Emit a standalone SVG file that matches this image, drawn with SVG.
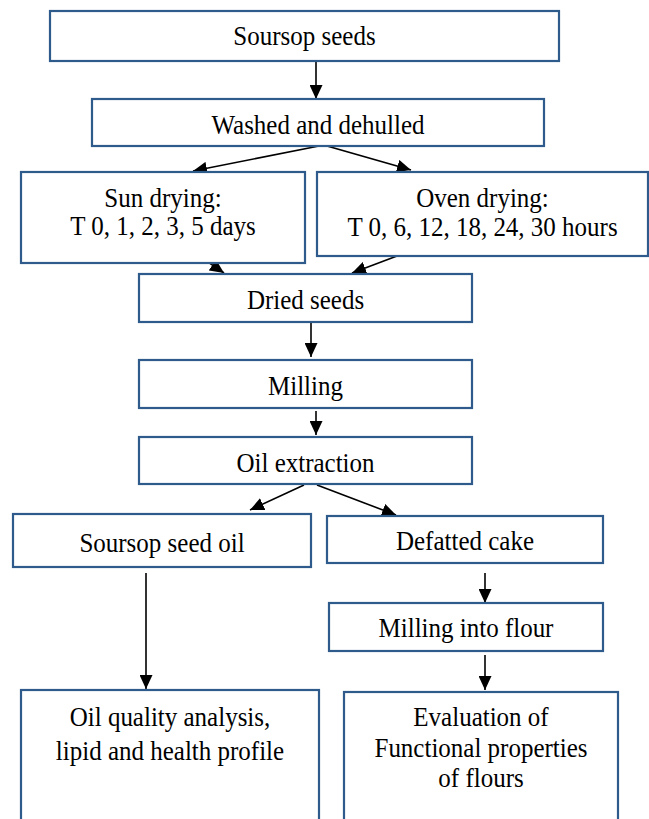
<svg xmlns="http://www.w3.org/2000/svg" width="649" height="819" viewBox="0 0 649 819">
<style>
.box{fill:#ffffff;stroke:#2f5b8c;stroke-width:2.2}
.t{font-family:'Liberation Serif','Times New Roman',Times,serif;font-size:25px;fill:#000;text-anchor:middle}
.c line{stroke:#000;stroke-width:1.6;marker-end:url(#ah)}
</style>
<defs>
<marker id="ah" markerUnits="userSpaceOnUse" markerWidth="15" markerHeight="13" refX="14" refY="6.5" orient="auto">
<path d="M0,0 L14,6.5 L0,13 z" fill="#000"/>
</marker>
</defs>
<rect width="649" height="819" fill="#fff"/>
<g class="c" id="connectors">
<line x1="316" y1="61" x2="316" y2="99"/>
<line x1="319" y1="146" x2="193" y2="171"/>
<line x1="327" y1="146" x2="411" y2="170"/>
<line x1="192" y1="251" x2="224" y2="273"/>
<line x1="397" y1="256" x2="352" y2="273"/>
<line x1="311" y1="322" x2="311" y2="357"/>
<line x1="316" y1="411" x2="316" y2="435"/>
<line x1="304" y1="485" x2="250" y2="510"/>
<line x1="317" y1="485" x2="396" y2="515"/>
<line x1="146" y1="573" x2="146" y2="689"/>
<line x1="485" y1="573" x2="485" y2="603"/>
<line x1="485" y1="655" x2="485" y2="690"/>
</g>
<g id="n1"><rect class="box" x="50" y="11" width="509" height="50"/><text class="t" transform="translate(304.5,45) scale(1,1.1)">Soursop seeds</text></g>
<g id="n2"><rect class="box" x="92" y="99" width="452" height="47"/><text class="t" transform="translate(318,134) scale(1,1.1)">Washed and dehulled</text></g>
<g id="n3"><rect class="box" x="21" y="172" width="284" height="91"/><text class="t" transform="translate(163,207) scale(1,1.1)">Sun drying:</text><text class="t" transform="translate(163,235) scale(1,1.1)">T 0, 1, 2, 3, 5 days</text></g>
<g id="n4"><rect class="box" x="317" y="172" width="331" height="84"/><text class="t" transform="translate(482.5,207) scale(1,1.1)">Oven drying:</text><text class="t" transform="translate(482.5,236) scale(1,1.1)">T 0, 6, 12, 18, 24, 30 hours</text></g>
<g id="n5"><rect class="box" x="139" y="274" width="333" height="48"/><text class="t" transform="translate(305.5,309) scale(1,1.1)">Dried seeds</text></g>
<g id="n6"><rect class="box" x="139" y="360" width="333" height="48"/><text class="t" transform="translate(305.5,395) scale(1,1.1)">Milling</text></g>
<g id="n7"><rect class="box" x="139" y="437" width="333" height="47"/><text class="t" transform="translate(305.5,472) scale(1,1.1)">Oil extraction</text></g>
<g id="n8"><rect class="box" x="13" y="514" width="298" height="53"/><text class="t" transform="translate(162,552) scale(1,1.1)">Soursop seed oil</text></g>
<g id="n9"><rect class="box" x="327" y="516" width="276" height="47"/><text class="t" transform="translate(465,550) scale(1,1.1)">Defatted cake</text></g>
<g id="n10"><rect class="box" x="329" y="603" width="274" height="48"/><text class="t" transform="translate(466,637) scale(1,1.1)">Milling into flour</text></g>
<g id="n11"><rect class="box" x="21" y="690" width="298" height="140"/><text class="t" transform="translate(170,726) scale(1,1.1)">Oil quality analysis,</text><text class="t" transform="translate(170,760) scale(1,1.1)">lipid and health profile</text></g>
<g id="n12"><rect class="box" x="344" y="692" width="274" height="140"/><text class="t" transform="translate(481,726) scale(1,1.1)">Evaluation of</text><text class="t" transform="translate(481,757) scale(1,1.1)">Functional properties</text><text class="t" transform="translate(481,787) scale(1,1.1)">of flours</text></g>
</svg>
